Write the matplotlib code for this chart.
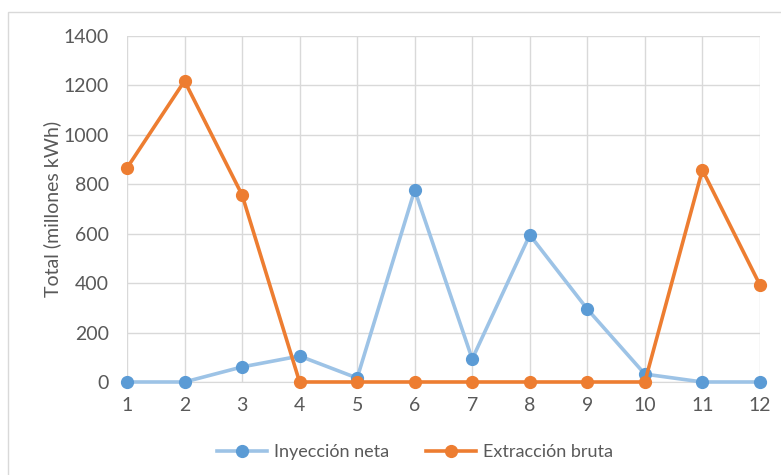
import matplotlib
matplotlib.use("Agg")
import matplotlib.pyplot as plt
from matplotlib.patches import Rectangle

plt.rcParams['font.family'] = ['Lato', 'DejaVu Sans']

meses = [1, 2, 3, 4, 5, 6, 7, 8, 9, 10, 11, 12]
inyeccion = [0, 0, 61, 105, 16, 777, 93, 595, 295, 32, 0, 0]
extraccion = [866, 1218, 757, 0, 0, 0, 0, 0, 0, 0, 858, 393]
y_ticks = [0, 200, 400, 600, 800, 1000, 1200, 1400]

fig = plt.figure(figsize=(7.81, 4.75), dpi=100)
ax = fig.add_axes([0.1626, 0.1958, 0.8104, 0.7284])

# outer chart frame
fig.patches.append(Rectangle((8 / 781, -0.1), 1.2, 1 - 12 / 475 + 0.1,
                             transform=fig.transFigure, fill=False,
                             edgecolor='#d9d9d9', lw=1.0))

ax.plot(meses, inyeccion, color='#9dc3e6', lw=2.6, marker='o', markersize=8.5,
        markerfacecolor='#5b9bd5', markeredgecolor='#5b9bd5',
        label='Inyección neta', clip_on=False, zorder=3)
ax.plot(meses, extraccion, color='#ed7d31', lw=2.6, marker='o', markersize=8.5,
        markerfacecolor='#ed7d31', markeredgecolor='#ed7d31',
        label='Extracción bruta', clip_on=False, zorder=4)

ax.set_xlim(1, 12)
ax.set_ylim(0, 1400)
ax.set_xticks(meses)
ax.set_yticks(y_ticks)
ax.grid(True, color='#d9d9d9', lw=1.0)
ax.set_axisbelow(True)
for s in ['top', 'right', 'left']:
    ax.spines[s].set_visible(False)
ax.spines['bottom'].set_color('#d9d9d9')
ax.tick_params(length=0, labelsize=14, colors='#595959')
ax.tick_params(axis='y', pad=13)
ax.tick_params(axis='x', pad=11)
ax.set_ylabel('Total (millones kWh)', fontsize=14, color='#595959', labelpad=2)

ax.legend(loc='center', bbox_to_anchor=(415 / 781, 23 / 475), bbox_transform=fig.transFigure,
          ncol=2, frameon=False, fontsize=13, labelcolor='#595959',
          handlelength=2.8, columnspacing=2.0, handletextpad=0.4)

fig.savefig('out.png', dpi=100)
